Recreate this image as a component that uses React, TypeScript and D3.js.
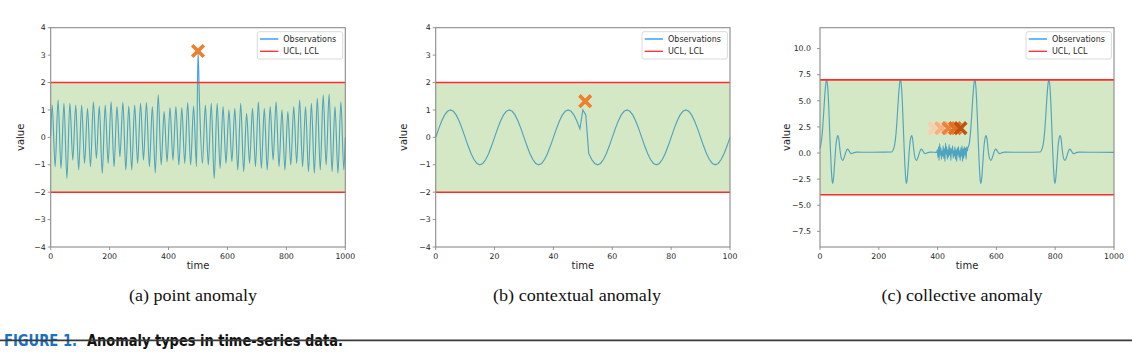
import React from "react";
import * as d3 from "d3";

// ---------- DATA ----------
// (a) point anomaly: sine-like series, period 20, read peak / trough values
const pointPeriod = 20;
const pointPeaks = [1.18, 1.36, 1.24, 1.24, 1.18, 1.18, 1.06, 1.3, 1.14, 1.18, 1.3, 1.12, 1.28, 1.14, 1.18, 1.24, 1.27, 1.12, 1.55, 0.94, 1.09, 1.12, 1.09, 1.27, 1.14,
  1.3, 1.18, 1.24, 1.24, 1.12, 1.0, 1.06, 1.24, 0.88, 1.06, 1.3, 1.06, 1.12, 1.3, 1.0, 0.94, 1.12, 1.36, 1.12, 1.24, 1.42, 1.55, 1.58, 1.12, 1.3];
const pointTroughs = [-1.07, -1.13, -1.5, -0.83, -1.19, -0.95, -1.07, -0.77, -1.31, -0.95, -1.07, -0.71, -1.19, -1.19, -0.95, -0.83, -1.07, -1.3, -1.01, -0.89, -0.83, -1.01, -0.95, -1.01, -1.07,
  -0.95, -1.01, -1.5, -1.13, -0.95, -0.89, -1.19, -1.25, -0.95, -1.07, -1.13, -1.19, -0.83, -1.07, -1.19, -1.01, -0.95, -1.07, -1.25, -1.31, -1.19, -1.01, -1.25, -1.31, -1.19];
const pointStart: [number, number] = [0, 0.05];
const pointEnd: [number, number] = [1000, 0.0];
const pointSpike: [number, number] = [500, 3.15];

// (b) contextual anomaly: values at t = 0..100
const contextValues = [
  0, 0.309, 0.588, 0.809, 0.951, 1, 0.951, 0.809, 0.588, 0.309,
  0, -0.309, -0.588, -0.809, -0.951, -1, -0.951, -0.809, -0.588, -0.309,
  0, 0.309, 0.588, 0.809, 0.951, 1, 0.951, 0.809, 0.588, 0.309,
  0, -0.309, -0.588, -0.809, -0.951, -1, -0.951, -0.809, -0.588, -0.309,
  0, 0.309, 0.588, 0.809, 0.951, 1, 0.951, 0.809, 0.588, 0.309,
  1.0, 0.82, -0.588, -0.809, -0.951, -1, -0.951, -0.809, -0.588, -0.309,
  0, 0.309, 0.588, 0.809, 0.951, 1, 0.951, 0.809, 0.588, 0.309,
  0, -0.309, -0.588, -0.809, -0.951, -1, -0.951, -0.809, -0.588, -0.309,
  0, 0.309, 0.588, 0.809, 0.951, 1, 0.951, 0.809, 0.588, 0.309,
  0, -0.309, -0.588, -0.809, -0.951, -1, -0.951, -0.809, -0.588, -0.309,
  0,
];
const contextMarker: [number, number] = [50.8, 1.32];

// (c) collective anomaly: [time, value]
const collectiveSeries: [number, number][] = [
  [0, 0.45], [3, 0.8], [8, 2.0], [12, 3.6], [16, 5.4], [20, 6.7], [23, 7.0], [26, 6.4], [29, 4.9], [32, 2.8], [35, 0.6], [38, -1.3], [41, -2.6], [43, -2.9], [46, -2.4], [50, -0.9], [54, 0.7], [58, 1.5], [61, 1.68], [64, 1.35], [68, 0.3], [72, -0.45], [77, -0.72], [82, -0.45], [87, 0.0], [91, 0.3], [94, 0.37], [98, 0.25], [103, 0.0], [108, -0.06], [115, 0.04], [125, 0.08], [170, 0.07], [215, 0.08],
  [244, 0.1], [249, 0.3], [254, 0.8], [259, 2.0], [263, 3.6], [267, 5.4], [271, 6.7], [274, 7.0], [277, 6.4], [280, 4.9], [283, 2.8], [286, 0.6], [289, -1.3], [292, -2.6], [294, -2.9], [297, -2.4], [301, -0.9], [305, 0.7], [309, 1.5], [312, 1.68], [315, 1.35], [319, 0.3], [323, -0.45], [328, -0.72], [333, -0.45], [338, 0.0], [342, 0.3], [345, 0.37], [349, 0.25], [354, 0.0], [359, -0.06], [366, 0.04], [376, 0.08], [390, 0.07], [397, 0.06],
  [399, 0.3], [401, -0.4], [403, 0.6], [405, -0.7], [407, 0.9], [409, -0.2], [411, 0.5], [413, -0.6], [415, 0.2], [417, -0.3], [419, 0.7], [421, -0.5], [423, 0.4], [425, -0.8], [427, 0.95], [429, -0.1], [431, 0.6], [433, -0.6], [435, 0.3], [437, -0.4], [439, 0.8], [441, -0.2], [443, 0.5], [445, -0.7], [447, 0.4], [449, 0.0], [451, 0.7], [453, -0.5], [455, 0.2], [457, -0.3], [459, 0.6], [461, -0.6], [463, 0.3], [465, -0.8], [467, 0.5], [469, -0.2], [471, 0.6], [473, -0.4], [475, 0.2], [477, -0.7], [479, 0.5], [481, -0.3], [483, 0.7], [485, -0.8], [487, 0.4], [489, -0.5], [491, 0.6], [493, -0.2], [495, 0.5], [497, -0.6], [499, 0.6], [501, 0.2], [503, 0.5],
  [507, 0.8], [512, 2.0], [516, 3.6], [520, 5.4], [524, 6.7], [527, 7.0], [530, 6.4], [533, 4.9], [536, 2.8], [539, 0.6], [542, -1.3], [545, -2.6], [547, -2.9], [550, -2.4], [554, -0.9], [558, 0.7], [562, 1.5], [565, 1.68], [568, 1.35], [572, 0.3], [576, -0.45], [581, -0.72], [586, -0.45], [591, 0.0], [595, 0.3], [598, 0.37], [602, 0.25], [607, 0.0], [612, -0.06], [619, 0.04], [629, 0.08], [690, 0.07], [749, 0.1],
  [754, 0.3], [759, 0.8], [764, 2.0], [768, 3.6], [772, 5.4], [776, 6.7], [779, 7.0], [782, 6.4], [785, 4.9], [788, 2.8], [791, 0.6], [794, -1.3], [797, -2.6], [799, -2.9], [802, -2.4], [806, -0.9], [810, 0.7], [814, 1.5], [817, 1.68], [820, 1.35], [824, 0.3], [828, -0.45], [833, -0.72], [838, -0.45], [843, 0.0], [847, 0.3], [850, 0.37], [854, 0.25], [859, 0.0], [864, -0.06], [871, 0.04], [881, 0.08], [940, 0.07], [1000, 0.06],
];
const collectiveMarkerTimes = [389, 412, 437, 459, 478];
const collectiveMarkerValue = 2.38;
const collectiveMarkerColors = ["#fccdaa", "#f7b083", "#ef8236", "#e1701f", "#c2520f"];

// axes settings
const tickLabelsAB = [-4, -3, -2, -1, 0, 1, 2, 3, 4];
const tickLabelsC = [-7.5, -5.0, -2.5, 0.0, 2.5, 5.0, 7.5, 10.0];
const xTicks1000 = [0, 200, 400, 600, 800, 1000];
const xTicks100 = [0, 20, 40, 60, 80, 100];
const limitsAB = [2, -2];
const limitsC = [7, -4];
const legendLabels = ["Observations", "UCL, LCL"];
const subCaptions = ["(a) point anomaly", "(b) contextual anomaly", "(c) collective anomaly"];
const figureLabel = "FIGURE 1.";
const figureTitle = "Anomaly types in time-series data.";

// build (a) series from peaks/troughs
const pointSeries: [number, number][] = (() => {
  const pts: [number, number][] = [pointStart];
  pointPeaks.forEach((p, k) => {
    const tp = pointPeriod / 4 + k * pointPeriod;
    const tt = (3 * pointPeriod) / 4 + k * pointPeriod;
    pts.push([tp, p]);
    pts.push([tt, pointTroughs[k]]);
    if (tt < pointSpike[0] && tt + pointPeriod / 2 > pointSpike[0]) pts.push(pointSpike);
  });
  pts.push(pointEnd);
  return pts;
})();
const contextSeries: [number, number][] = contextValues.map((v, i) => [i, v]);

const FONT = "'DejaVu Sans', sans-serif";
const minus = (s: string) => s.replace("-", "\u2212");

type Marker = { t: number; v: number; color: string };
type PanelProps = {
  left: number; right: number; top: number; bottom: number;
  xDomain: [number, number]; yDomain: [number, number];
  xTicks: number[]; yTicks: number[]; yFmt: (v: number) => string;
  limits: number[]; series: [number, number][]; curve: d3.CurveFactory;
  markers: Marker[]; labelGap: number; ylabelOffset: number;
};

function XMark({ x, y, color }: { x: number; y: number; color: string }) {
  const s = 5.8;
  return (
    <path d={`M${x - s},${y - s}L${x + s},${y + s}M${x - s},${y + s}L${x + s},${y - s}`}
      stroke={color} strokeWidth={3.6} fill="none" />
  );
}

function Panel(p: PanelProps) {
  const x = d3.scaleLinear().domain(p.xDomain).range([p.left, p.right]);
  const y = d3.scaleLinear().domain(p.yDomain).range([p.bottom, p.top]);
  const line = d3.line<[number, number]>().x((d) => x(d[0])).y((d) => y(d[1])).curve(p.curve);
  const cx = (p.left + p.right) / 2;
  const cy = (p.top + p.bottom) / 2;
  const lgW = 85.4, lgH = 27.3;
  const lgX = p.right - lgW - 2.6, lgY = p.top + 4;
  return (
    <g>
      <path d={line(p.series) || ""} fill="none" stroke="#2b93f5" strokeOpacity={0.9} strokeWidth={1.15} />
      <rect x={p.left} y={y(p.limits[0])} width={p.right - p.left} height={y(p.limits[1]) - y(p.limits[0])}
        fill="rgb(115,178,62)" fillOpacity={0.3} />
      {p.limits.map((l, i) => (
        <line key={i} x1={p.left} x2={p.right} y1={y(l)} y2={y(l)} stroke="#ff2a2a" strokeWidth={1.6} />
      ))}
      {p.markers.map((m, i) => <XMark key={i} x={x(m.t)} y={y(m.v)} color={m.color} />)}
      <rect x={p.left} y={p.top} width={p.right - p.left} height={p.bottom - p.top} fill="none" stroke="#8a8a8a" strokeWidth={1.1} />
      {p.yTicks.map((t) => (
        <g key={t}>
          <line x1={p.left - 3} x2={p.left} y1={y(t)} y2={y(t)} stroke="#8a8a8a" strokeWidth={0.9} />
          <text x={p.left - p.labelGap} y={y(t)} dy="0.35em" textAnchor="end" fontSize={7.8} fontFamily={FONT} fill="#262626">
            {minus(p.yFmt(t))}
          </text>
        </g>
      ))}
      {p.xTicks.map((t) => (
        <g key={t}>
          <line x1={x(t)} x2={x(t)} y1={p.bottom} y2={p.bottom + 3} stroke="#8a8a8a" strokeWidth={0.9} />
          <text x={x(t)} y={p.bottom + 12} textAnchor="middle" fontSize={7.8} fontFamily={FONT} fill="#262626">{t}</text>
        </g>
      ))}
      <text x={cx} y={p.bottom + 22.3} textAnchor="middle" fontSize={10} fontFamily={FONT} fill="#262626">time</text>
      <text transform={`translate(${p.left - p.ylabelOffset},${cy}) rotate(-90)`} textAnchor="middle" dy="0.35em"
        fontSize={10} fontFamily={FONT} fill="#262626">value</text>
      <rect x={lgX} y={lgY} width={lgW} height={lgH} rx={2} fill="#fff" fillOpacity={0.85} stroke="#d0d0d0" strokeWidth={0.8} />
      {legendLabels.map((lab, i) => (
        <g key={lab}>
          <line x1={lgX + 2.7} x2={lgX + 21} y1={lgY + 7.3 + i * 12.3} y2={lgY + 7.3 + i * 12.3}
            stroke={i === 0 ? "#1e90ff" : "#ff2a2a"} strokeWidth={1.3} />
          <text x={lgX + 26} y={lgY + 7.3 + i * 12.3} dy="0.35em" fontSize={8} fontFamily={FONT} fill="#262626">{lab}</text>
        </g>
      ))}
    </g>
  );
}

export default function App() {
  const orange = "#ee7f2d";
  const fmtInt = (v: number) => String(v);
  const fmt1 = (v: number) => v.toFixed(1);
  const captionX = [193, 577, 962];
  return (
    <svg width={1132} height={356} style={{ position: "absolute", left: 0, top: 0, background: "#fff" }}>
      <rect x={0} y={0} width={1132} height={356} fill="#fff" />
      <Panel left={50.7} right={345.3} top={27.7} bottom={247} xDomain={[0, 1000]} yDomain={[-4, 4]}
        xTicks={xTicks1000} yTicks={tickLabelsAB} yFmt={fmtInt} limits={limitsAB} series={pointSeries}
        curve={d3.curveMonotoneX} markers={[{ t: pointSpike[0], v: pointSpike[1], color: orange }]}
        labelGap={5} ylabelOffset={30.7} />
      <Panel left={435.7} right={730} top={27.7} bottom={247} xDomain={[0, 100]} yDomain={[-4, 4]}
        xTicks={xTicks100} yTicks={tickLabelsAB} yFmt={fmtInt} limits={limitsAB} series={contextSeries}
        curve={d3.curveLinear} markers={[{ t: contextMarker[0], v: contextMarker[1], color: orange }]}
        labelGap={5} ylabelOffset={32.4} />
      <Panel left={820} right={1114} top={27.7} bottom={247} xDomain={[0, 1000]} yDomain={[-9, 12]}
        xTicks={xTicks1000} yTicks={tickLabelsC} yFmt={fmt1} limits={limitsC} series={collectiveSeries}
        curve={d3.curveMonotoneX}
        markers={collectiveMarkerTimes.map((t, i) => ({ t, v: collectiveMarkerValue, color: collectiveMarkerColors[i] }))}
        labelGap={9} ylabelOffset={33.3} />
      {subCaptions.map((c, i) => (
        <text key={c} x={captionX[i]} y={300.5} textAnchor="middle" fontSize={16}
          fontFamily="'Liberation Serif', 'Times New Roman', serif" fill="#111"
          textLength={[128, 168, 161][i]} lengthAdjust="spacingAndGlyphs">{c}</text>
      ))}
      <text x={4} y={345.5} fontSize={15.5} fontWeight="bold" fontFamily="'DejaVu Sans Condensed', 'DejaVu Sans', sans-serif"
        fill="#1a72c6" textLength={73} lengthAdjust="spacingAndGlyphs">{figureLabel}</text>
      <text x={87} y={345.5} fontSize={15.5} fontWeight="bold" fontFamily="'DejaVu Sans Condensed', 'DejaVu Sans', sans-serif"
        fill="#111" textLength={256} lengthAdjust="spacingAndGlyphs">{figureTitle}</text>
      <line x1={0} x2={1132} y1={340.4} y2={340.4} stroke="#3a3a3a" strokeWidth={1.6} />
    </svg>
  );
}
